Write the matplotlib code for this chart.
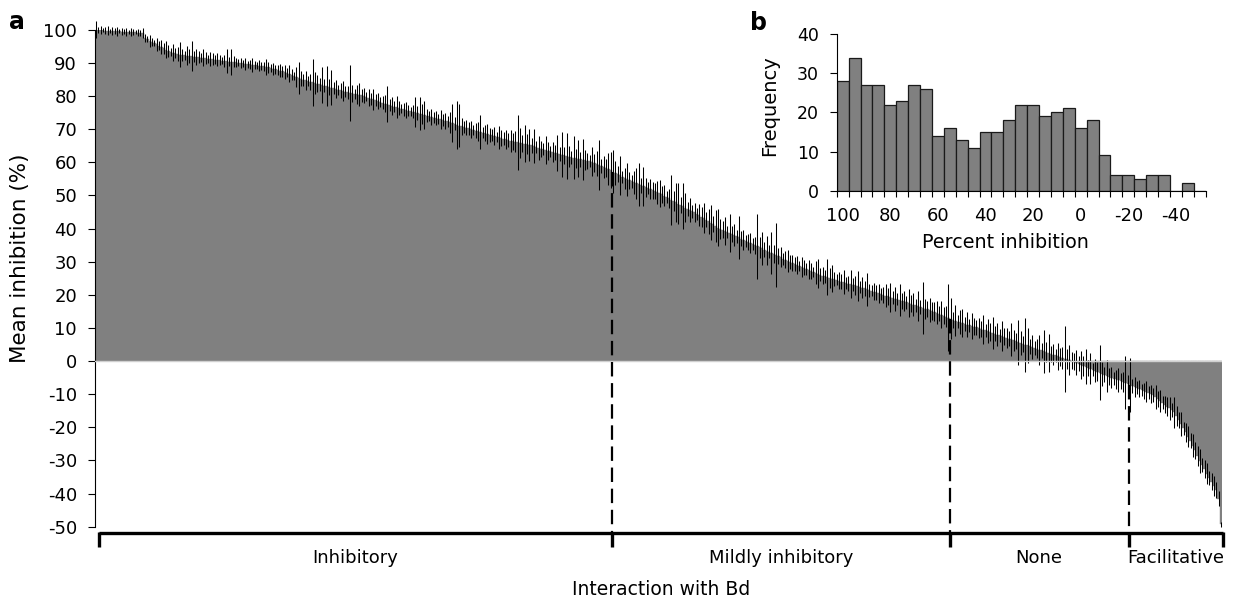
import matplotlib.pyplot as plt
import numpy as np

# panel a: mean inhibition (%) per isolate, sorted high to low
mean_inhibition = [
    100.0, 99.9, 99.8, 99.8, 99.7, 99.7, 99.6, 99.6, 99.5, 99.5, 99.5, 99.4, 99.4, 99.4,
    99.3, 99.3, 99.2, 99.2, 99.1, 99.0, 98.9, 97.6, 97.1, 96.7, 96.3, 96.0, 95.6, 95.2,
    94.8, 94.4, 94.0, 93.7, 93.4, 93.1, 92.9, 92.7, 92.5, 92.4, 92.3, 92.2, 92.1, 92.0,
    91.9, 91.8, 91.7, 91.6, 91.5, 91.4, 91.3, 91.2, 91.1, 91.0, 90.9, 90.8, 90.7, 90.6,
    90.5, 90.4, 90.3, 90.3, 90.2, 90.1,
    89.9, 89.8, 89.7, 89.6, 89.5, 89.4, 89.3, 89.2, 89.1, 89.0, 88.9, 88.8, 88.6, 88.4,
    88.2, 88.0, 87.8, 87.6, 87.4, 87.2, 87.0, 86.7, 86.4, 86.1, 85.8, 85.5, 85.2,
    84.9, 84.7, 84.5, 84.3, 84.1, 83.9, 83.7, 83.5, 83.3, 83.1, 82.9, 82.7, 82.5, 82.3,
    82.1, 81.9, 81.7, 81.5, 81.3, 81.1, 80.9, 80.8, 80.6, 80.5, 80.4, 80.2, 80.1,
    79.8, 79.5, 79.2, 79.0, 78.7, 78.5, 78.2, 78.0, 77.7, 77.5, 77.3, 77.0, 76.8, 76.6,
    76.4, 76.2, 76.0, 75.8, 75.6, 75.4, 75.3, 75.1,
    74.9, 74.7, 74.5, 74.3, 74.1, 73.9, 73.7, 73.5, 73.3, 73.1, 72.9, 72.7, 72.5, 72.3,
    72.1, 71.9, 71.6, 71.3, 71.0, 70.8, 70.6, 70.4, 70.2,
    69.9, 69.7, 69.5, 69.3, 69.1, 68.9, 68.7, 68.5, 68.3, 68.1, 67.9, 67.7, 67.5, 67.3,
    67.1, 66.9, 66.7, 66.5, 66.3, 66.2, 66.0, 65.9, 65.7, 65.6, 65.4, 65.3, 65.1,
    64.9, 64.6, 64.4, 64.1, 63.9, 63.7, 63.5, 63.3, 63.1, 62.9, 62.7, 62.5, 62.3, 62.1,
    61.9, 61.7, 61.5, 61.3, 61.2, 61.0, 60.9, 60.7, 60.6, 60.4, 60.3, 60.1,
    59.8, 59.5, 59.2, 58.9, 58.6, 58.3, 58.0, 57.6, 57.2, 56.8, 56.4, 56.0, 55.6, 55.2,
    54.8, 54.5, 54.2, 53.9, 53.6, 53.3, 53.0, 52.7, 52.4, 52.1, 51.8, 51.5, 51.2, 50.9,
    50.6, 50.3,
    49.9, 49.5, 49.1, 48.7, 48.3, 47.9, 47.5, 47.1, 46.7, 46.3, 45.9, 45.6, 45.2,
    44.9, 44.5, 44.0, 43.6, 43.1, 42.7, 42.2, 41.8, 41.3, 40.8, 40.3,
    39.9, 39.6, 39.3, 39.0, 38.7, 38.3, 38.0, 37.6, 37.3, 36.9, 36.6, 36.2, 35.9, 35.5, 35.2,
    34.9, 34.6, 34.3, 34.0, 33.6, 33.3, 33.0, 32.6, 32.3, 32.0, 31.6, 31.3, 30.9, 30.6, 30.2,
    29.9, 29.6, 29.3, 29.0, 28.7, 28.4, 28.2, 27.9, 27.6, 27.3, 27.0, 26.7, 26.4, 26.1,
    25.8, 25.6, 25.3, 25.1,
    24.9, 24.7, 24.5, 24.3, 24.0, 23.8, 23.6, 23.4, 23.2, 23.0, 22.8, 22.6, 22.3, 22.1,
    21.9, 21.7, 21.4, 21.2, 20.9, 20.7, 20.4, 20.2,
    19.9, 19.7, 19.5, 19.3, 19.1, 18.8, 18.6, 18.4, 18.2, 18.0, 17.7, 17.5, 17.3, 17.0,
    16.8, 16.6, 16.3, 16.1, 15.8, 15.6, 15.3, 15.1,
    14.9, 14.6, 14.3, 14.0, 13.7, 13.4, 13.1, 12.8, 12.5, 12.2, 11.9, 11.7, 11.4, 11.2,
    11.0, 10.8, 10.6, 10.4, 10.2,
    9.9, 9.7, 9.5, 9.3, 9.0, 8.8, 8.5, 8.3, 8.0, 7.8, 7.5, 7.3, 7.0, 6.8, 6.5, 6.3, 6.0,
    5.7, 5.4, 5.1,
    4.9, 4.7, 4.4, 4.2, 3.9, 3.7, 3.4, 3.2, 2.9, 2.7, 2.4, 2.2, 1.9, 1.7, 1.4, 1.2, 0.9,
    0.7, 0.5, 0.3, 0.1,
    -0.2, -0.5, -0.8, -1.1, -1.4, -1.7, -2.0, -2.3, -2.6, -2.9, -3.2, -3.5, -3.8, -4.1,
    -4.4, -4.7,
    -5.0, -5.3, -5.5, -5.8, -6.0, -6.3, -6.6, -6.9, -7.2, -7.5, -7.8, -8.1, -8.4, -8.7,
    -9.0, -9.3, -9.6, -9.9,
    -10.3, -10.8, -11.4, -12.0, -12.6, -13.2, -13.8, -14.3, -14.8,
    -15.5, -16.6, -17.8, -19.0, -20.3, -21.5, -22.8, -24.0, -25.5, -27.0, -28.6,
    -30.2, -31.4, -32.6, -34.0, -35.3, -36.4, -37.6, -38.8, -41.5, -49.3,
]

# error bar half lengths for the same isolates
inhibition_err = [
    2.5, 0.8, 1.2, 0.6, 1.0, 1.3, 0.7, 1.1, 0.9, 1.4, 0.6, 1.0, 0.8, 1.2, 0.7, 1.3, 0.9, 0.6, 1.1, 0.8,
    1.5, 1.2, 0.9, 1.8, 1.3, 1.0, 2.0, 1.4, 2.2, 1.6, 2.5, 1.8, 1.2, 2.6, 1.5, 2.0, 3.8, 1.9, 1.4, 2.8,
    2.0, 4.5, 1.6, 2.4, 1.8, 1.3, 2.6, 1.9, 1.2, 2.2, 1.8, 1.4, 2.0, 1.6, 1.1, 1.9, 3.6, 1.5, 4.0, 1.7,
    1.4, 1.0, 1.6, 1.2, 1.8, 1.1, 1.5, 2.2, 1.3, 1.0, 1.7, 1.2, 1.4, 2.4, 1.6, 1.1, 1.9, 1.3, 1.5, 2.0,
    1.6, 2.0, 1.3, 2.5, 1.7, 1.2, 3.0, 4.8, 2.2, 1.8, 2.8, 1.5, 2.4, 7.0, 3.2, 2.6, 1.9, 5.5, 2.0, 6.0,
    2.4, 5.2, 1.8, 2.6, 1.5, 2.2, 3.0, 1.7, 2.0, 8.5, 2.5, 1.6, 2.8, 3.4, 1.9, 2.2, 1.4, 2.6, 1.8, 3.2,
    1.8, 2.4, 1.5, 2.0, 2.6, 5.4, 1.9, 2.8, 1.6, 3.3, 2.2, 1.4, 1.9, 2.5, 1.7, 1.3, 2.0, 4.6, 2.2, 5.0,
    3.0, 4.2, 2.0, 1.6, 2.5, 1.8, 2.2, 1.5, 2.8, 1.9, 2.4, 1.6, 3.2, 5.8, 2.0, 7.2, 6.5, 2.6, 1.8, 2.2,
    1.9, 2.5, 1.6, 2.2, 2.8, 5.2, 1.7, 2.4, 3.0, 2.1, 1.8, 2.6, 1.5, 3.5, 2.3, 1.9, 2.8, 2.0, 3.3, 2.6,
    3.2, 8.3, 4.5, 2.6, 5.6, 3.0, 4.8, 2.2, 5.2, 1.9, 3.6, 2.4, 1.8, 4.2, 2.7, 1.6, 3.1, 2.2, 5.4, 2.0,
    6.8, 2.5, 7.0, 3.2, 2.0, 6.5, 2.8, 5.6, 2.2, 6.2, 3.0, 2.4, 1.8, 4.4, 2.6, 3.8, 7.5, 2.0, 3.4, 2.8,
    4.8, 5.5, 6.5, 3.6, 2.4, 5.8, 1.9, 3.2, 5.0, 2.6, 2.0, 3.4, 4.6, 6.4, 2.2, 5.9, 2.8, 1.8, 3.0, 2.5,
    2.4, 3.5, 4.0, 2.6, 3.2, 1.9, 2.8, 7.5, 3.0, 5.8, 6.2, 2.4, 7.0, 4.4, 2.2, 3.6, 2.0, 2.8, 1.8, 3.3,
    3.0, 4.6, 2.2, 3.8, 5.2, 2.4, 4.8, 5.6, 3.1, 2.6, 4.2, 1.9, 5.8, 2.5, 3.4, 2.0, 6.4, 2.2, 3.0, 1.8,
    2.4, 3.0, 1.8, 2.6, 9.8, 3.2, 5.0, 2.2, 4.4, 1.9, 6.2, 2.8, 9.6, 2.4, 3.0, 1.8, 2.6, 3.4, 2.0, 2.5,
    2.0, 2.6, 1.6, 3.0, 2.2, 1.8, 2.8, 2.4, 1.5, 3.6, 4.5, 2.0, 2.6, 1.9, 5.5, 3.0, 4.2, 2.2, 1.7, 2.5,
    2.2, 3.6, 1.8, 2.4, 4.2, 2.0, 2.8, 4.6, 1.9, 3.2, 2.4, 5.0, 2.0, 1.6, 2.6, 2.2, 3.0, 1.8, 2.4, 3.4,
    2.6, 4.4, 2.0, 3.6, 1.8, 4.8, 2.4, 3.0, 1.9, 4.2, 2.6, 3.4, 2.0, 4.6, 2.2, 7.8, 3.0, 2.4, 3.6, 2.8,
    2.8, 3.4, 2.2, 4.0, 2.6, 3.2, 10.0, 6.2, 2.4, 4.6, 2.0, 3.6, 4.2, 2.2, 3.8, 1.9, 4.0, 2.6, 2.2, 3.0,
    2.4, 4.4, 2.0, 3.6, 2.8, 4.8, 2.2, 3.4, 2.0, 4.6, 2.6, 3.0, 2.2, 5.0, 3.2, 2.4, 6.8, 3.6, 2.4, 8.2,
    5.2, 2.4, 3.6, 2.0, 2.8, 4.6, 2.2, 6.4, 3.0, 5.8, 2.4, 3.2, 2.0, 4.0, 2.6, 3.4, 10.0, 3.0, 4.4, 2.6,
    2.6, 3.8, 2.2, 4.2, 3.0, 5.2, 2.4, 4.6, 2.0, 3.4, 2.8, 8.4, 3.6, 2.2, 4.8, 2.6, 3.2, 2.0, 2.8, 3.6,
    2.4, 3.0, 8.0, 2.6, 8.2, 2.2, 3.0, 2.0, 2.6, 1.8, 2.4, 3.2, 2.0, 2.8, 2.2, 3.6, 2.4, 3.4, 2.0, 2.6,
    2.8, 3.4, 2.2, 4.6, 3.0, 2.4, 3.6, 2.0, 2.8, 3.2, 2.2, 3.4, 2.6, 3.0, 3.6, 2.2, 2.8, 3.2, 2.0, 2.6,
    3.0, 2.4, 2.2, 0.8,
]

categories = ["Inhibitory", "Mildly inhibitory", "None", "Facilitative"]
category_sizes = [222, 145, 77, 40]

# panel b: histogram of percent inhibition (bins labelled 100 ... -50)
hist_bins = [100, 95, 90, 85, 80, 75, 70, 65, 60, 55, 50, 45, 40, 35, 30, 25,
             20, 15, 10, 5, 0, -5, -10, -15, -20, -25, -30, -35, -40, -45, -50]
hist_counts = [28, 34, 27, 27, 22, 23, 27, 26, 14, 16, 13, 11, 15, 15, 18, 22,
               22, 19, 20, 21, 16, 18, 9, 4, 4, 3, 4, 4, 0, 2, 0]

plt.rcParams['font.family'] = 'DejaVu Sans'
plt.rcParams['axes.unicode_minus'] = False

W, H = 1236, 607
fig = plt.figure(figsize=(W / 100, H / 100), dpi=100)

BAR_GREY = '#808080'

# ---- panel a ----
ax = fig.add_axes([95 / W, 1 - 526.7 / H, (1222 - 95) / W, 497 / H])
n = len(mean_inhibition)
x = np.arange(n)
ax.bar(x, mean_inhibition, width=1.0, color=BAR_GREY, edgecolor=BAR_GREY,
       linewidth=0.3, zorder=2)
ax.errorbar(x, mean_inhibition, yerr=inhibition_err, fmt='none', ecolor='black',
            elinewidth=0.75, capsize=0, zorder=3, clip_on=False)
ax.axhline(0, color='#d0d0d0', lw=1.0, zorder=4)

ax.set_xlim(-0.5, n - 0.5)
ax.set_ylim(-50, 100)
ax.set_yticks(np.arange(-50, 101, 10))
ax.tick_params(axis='y', direction='out', length=5, width=0.8, labelsize=13, pad=8)
ax.set_xticks([])
for s in ['top', 'right', 'bottom']:
    ax.spines[s].set_visible(False)
ax.spines['left'].set_linewidth(0.8)

# bracket under panel a
bracket_y = -51.8
tick_low = -56.0
edges = np.concatenate([[0], np.cumsum(category_sizes)]) - 0.5
edges[0] += 1.7
edges[-1] += 0.6
ax.plot([edges[0], edges[-1]], [bracket_y, bracket_y], color='black', lw=2.4,
        clip_on=False, solid_capstyle='butt', zorder=5)
for e in edges:
    ax.plot([e, e], [bracket_y + 0.3, tick_low], color='black', lw=2.4,
            clip_on=False, solid_capstyle='butt', zorder=5)
for b in np.cumsum(category_sizes)[:-1]:
    ax.plot([b - 0.5, b - 0.5], [mean_inhibition[b], bracket_y], color='black',
            lw=1.6, linestyle=(0, (6.5, 3)), clip_on=False, zorder=6)
for i, name in enumerate(categories):
    ax.text((edges[i] + edges[i + 1]) / 2, -0.063, name, transform=ax.get_xaxis_transform(),
            ha='center', va='center', fontsize=13)
ax.text((edges[0] + edges[-1]) / 2, -0.127, 'Interaction with Bd',
        transform=ax.get_xaxis_transform(), ha='center', va='center', fontsize=13.5)

fig.text(20 / W, 1 - 258 / H, 'Mean inhibition (%)', rotation=90, ha='center',
         va='center', fontsize=15.5)
fig.text(17 / W, 1 - 22 / H, 'a', ha='center', va='center', fontsize=17, fontweight='bold')

# ---- panel b (inset) ----
ax2 = fig.add_axes([836.7 / W, 1 - 190.7 / H, 369 / W, 156.7 / H])
xb = np.arange(len(hist_bins))
ax2.bar(xb, hist_counts, width=1.0, color=BAR_GREY, edgecolor='#1a1a1a', linewidth=0.9)
ax2.set_xlim(-0.5, len(hist_bins) - 0.5)
ax2.set_ylim(0, 40)
ax2.set_yticks([0, 10, 20, 30, 40])
ax2.tick_params(axis='y', direction='out', length=5, width=0.8, labelsize=12.5, pad=8)
ax2.set_xticks(np.arange(len(hist_bins) + 1) - 0.5)
ax2.set_xticklabels([])
ax2.tick_params(axis='x', which='major', direction='out', length=4.5, width=0.8)
ax2.set_xticks(xb[::4], minor=True)
ax2.set_xticklabels([str(v) for v in hist_bins[::4]], minor=True)
ax2.tick_params(axis='x', which='minor', length=0, labelsize=13, pad=12)
ax2.set_xlabel('Percent inhibition', fontsize=13.8)
ax2.xaxis.set_label_coords((1005 - 836.7) / 369, -(242 - 190.7) / 156.7)
ax2.xaxis.label.set_va('center')
ax2.set_ylabel('Frequency', fontsize=14)
ax2.yaxis.set_label_coords(-(836.7 - 770) / 369, (190.7 - 106) / 156.7)
ax2.yaxis.label.set_va('center')
for s in ['top', 'right']:
    ax2.spines[s].set_visible(False)
for s in ['left', 'bottom']:
    ax2.spines[s].set_linewidth(0.8)
fig.text(759 / W, 1 - 23 / H, 'b', ha='center', va='center', fontsize=17, fontweight='bold')

fig.savefig('out.png', dpi=100)
